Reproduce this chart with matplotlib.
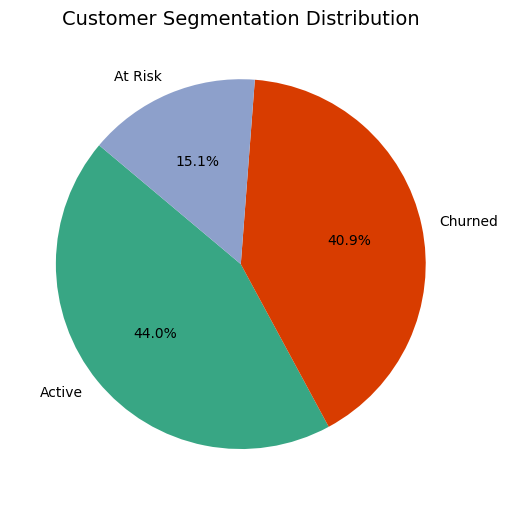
import matplotlib
matplotlib.use("Agg")
import matplotlib.pyplot as plt

SEGMENTS = ["Active", "Churned", "At Risk"]
SHARES = [44.0, 40.9, 15.1]
COLORS = ["#38a684", "#d83c00", "#8da0cb"]

fig = plt.figure(figsize=(5.08, 5.05), dpi=100)
ax = fig.add_axes([0.019, 0.019, 0.910, 0.916])
ax.pie(SHARES, labels=SEGMENTS, colors=COLORS, autopct="%1.1f%%", startangle=140)
ax.set_title("Customer Segmentation Distribution", fontsize=14)
ax.set_aspect("equal")
fig.savefig("out.png", dpi=100)
